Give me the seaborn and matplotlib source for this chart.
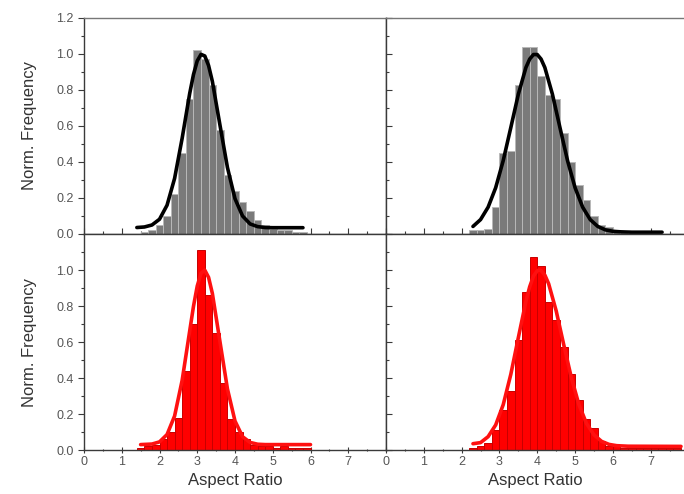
import numpy as np
import pandas as pd
import matplotlib
matplotlib.use("Agg")
import matplotlib.pyplot as plt
import seaborn as sns
from matplotlib.ticker import MultipleLocator

sns.set_theme(style="white")
plt.rcParams['font.family'] = ['Liberation Sans', 'DejaVu Sans']

# ---------------- data ----------------
# top-left histogram (grey)
tl_bin_centers = [1.6, 1.8, 2.0, 2.2, 2.4, 2.6, 2.8, 3.0, 3.2, 3.4, 3.6, 3.8,
                  4.0, 4.2, 4.4, 4.6, 4.8, 5.0, 5.2, 5.4, 5.6, 5.8]
tl_heights = [0.01, 0.02, 0.05, 0.10, 0.22, 0.45, 0.75, 1.02, 0.97, 0.83, 0.58, 0.33,
              0.24, 0.18, 0.13, 0.08, 0.05, 0.03, 0.02, 0.02, 0.01, 0.01]
tl_fit_x = [1.4, 1.6, 1.8, 2.0, 2.2, 2.4, 2.6, 2.8, 2.9, 3.0, 3.1, 3.2, 3.3, 3.4,
            3.6, 3.8, 4.0, 4.2, 4.4, 4.6, 4.8, 5.0, 5.8]
tl_fit_y = [0.036, 0.039, 0.050, 0.082, 0.160, 0.309, 0.532, 0.781, 0.886, 0.962,
            0.998, 0.989, 0.936, 0.848, 0.607, 0.369, 0.196, 0.100, 0.056, 0.041,
            0.036, 0.035, 0.035]

# top-right histogram (grey)
tr_bin_centers = [2.3, 2.5, 2.7, 2.9, 3.1, 3.3, 3.5, 3.7, 3.9, 4.1, 4.3, 4.5, 4.7,
                  4.9, 5.1, 5.3, 5.5, 5.7, 5.9, 6.1, 6.3, 6.5, 6.7, 6.9, 7.1]
tr_heights = [0.02, 0.02, 0.03, 0.15, 0.45, 0.46, 0.83, 1.04, 1.04, 0.88, 0.77, 0.75,
              0.56, 0.40, 0.27, 0.19, 0.10, 0.05, 0.04, 0.02, 0.01, 0.01, 0.01,
              0.005, 0.005]
tr_fit_x = [2.3, 2.5, 2.7, 2.9, 3.1, 3.3, 3.5, 3.7, 3.8, 3.9, 4.0, 4.1, 4.2, 4.4,
            4.6, 4.8, 5.0, 5.2, 5.4, 5.6, 5.8, 6.0, 6.2, 6.5, 7.3]
tr_fit_y = [0.042, 0.080, 0.149, 0.257, 0.408, 0.591, 0.777, 0.925, 0.972, 0.997,
            0.997, 0.972, 0.925, 0.777, 0.591, 0.408, 0.257, 0.149, 0.080, 0.042,
            0.023, 0.015, 0.012, 0.010, 0.010]

# bottom-left histogram (red)
bl_bin_centers = [1.5, 1.7, 1.9, 2.1, 2.3, 2.5, 2.7, 2.9, 3.1, 3.3, 3.5, 3.7, 3.9,
                  4.1, 4.3, 4.5, 4.7, 4.9, 5.1, 5.3, 5.5, 5.7, 5.9]
bl_heights = [0.01, 0.02, 0.03, 0.06, 0.10, 0.18, 0.44, 0.70, 1.11, 0.86, 0.65, 0.37,
              0.17, 0.10, 0.06, 0.03, 0.02, 0.02, 0.01, 0.02, 0.01, 0.01, 0.01]
bl_fit_x = [1.5, 1.8, 2.0, 2.2, 2.4, 2.6, 2.8, 2.9, 3.0, 3.1, 3.2, 3.3, 3.4, 3.6,
            3.8, 4.0, 4.2, 4.4, 4.6, 4.8, 6.0]
bl_fit_y = [0.030, 0.033, 0.045, 0.086, 0.189, 0.387, 0.661, 0.798, 0.911, 0.982,
            0.999, 0.959, 0.870, 0.604, 0.339, 0.161, 0.074, 0.042, 0.032, 0.030,
            0.030]

# bottom-right histogram (red)
br_bin_centers = [2.3, 2.5, 2.7, 2.9, 3.1, 3.3, 3.5, 3.7, 3.9, 4.1, 4.3, 4.5, 4.7,
                  4.9, 5.1, 5.3, 5.5, 5.7, 5.9, 6.1, 6.3, 6.5, 6.7, 6.9, 7.1, 7.3,
                  7.5, 7.7]
br_heights = [0.01, 0.02, 0.04, 0.11, 0.22, 0.33, 0.61, 0.88, 1.07, 1.02, 0.82, 0.72,
              0.57, 0.42, 0.28, 0.17, 0.12, 0.05, 0.02, 0.03, 0.01, 0.01, 0.01,
              0.01, 0.01, 0.01, 0.01, 0.01]
br_fit_x = [2.3, 2.5, 2.7, 2.9, 3.1, 3.3, 3.5, 3.7, 3.8, 3.9, 4.0, 4.05, 4.1, 4.2,
            4.3, 4.5, 4.7, 4.9, 5.1, 5.3, 5.5, 5.7, 5.9, 6.1, 6.4, 7.8]
br_fit_y = [0.035, 0.041, 0.074, 0.139, 0.252, 0.420, 0.625, 0.826, 0.907, 0.966,
            0.996, 1.0, 0.997, 0.972, 0.924, 0.773, 0.585, 0.403, 0.253, 0.148,
            0.084, 0.048, 0.031, 0.024, 0.021, 0.020]

x_tick_labels = ["0", "1", "2", "3", "4", "5", "6", "7"]
y_tick_labels_top = ["0.0", "0.2", "0.4", "0.6", "0.8", "1.0", "1.2"]
y_tick_labels_bottom = ["0.0", "0.2", "0.4", "0.6", "0.8", "1.0"]
x_label = "Aspect Ratio"
y_label = "Norm. Frequency"

# ---------------- figure ----------------
W, H = 684, 494
fig = plt.figure(figsize=(W / 100, H / 100), dpi=100)
fig.patch.set_facecolor("white")

def frac(x0, y0, x1, y1):
    return [x0 / W, 1 - y1 / H, (x1 - x0) / W, (y1 - y0) / H]

ax_tl = fig.add_axes(frac(84, 18, 386, 234))
ax_tr = fig.add_axes(frac(386, 18, 684, 234))
ax_bl = fig.add_axes(frac(84, 234, 386, 450))
ax_br = fig.add_axes(frac(386, 234, 684, 450))

panels = [
    (ax_tl, tl_bin_centers, tl_heights, tl_fit_x, tl_fit_y, "#7a7a7a", "#b8b8b8", "black"),
    (ax_tr, tr_bin_centers, tr_heights, tr_fit_x, tr_fit_y, "#7a7a7a", "#b8b8b8", "black"),
    (ax_bl, bl_bin_centers, bl_heights, bl_fit_x, bl_fit_y, "#ff0000", "#c80000", "#ff1010"),
    (ax_br, br_bin_centers, br_heights, br_fit_x, br_fit_y, "#ff0000", "#c80000", "#ff1010"),
]

for ax, cx, hy, fx, fy, fc, ec, lc in panels:
    lo = min(cx) - 0.1
    hi = max(cx) + 0.1
    sns.histplot(x=cx, weights=hy, binwidth=0.2, binrange=(lo, hi), ax=ax,
                 color=fc, edgecolor=ec, linewidth=0.7, alpha=1.0, stat="count")
    sns.lineplot(x=fx, y=fy, ax=ax, color=lc, linewidth=2.6, sort=True)
    for ln in ax.get_lines():
        ln.set_solid_joinstyle("round")
        ln.set_solid_capstyle("round")
    ax.set_ylim(0, 1.2)
    ax.set_facecolor("white")
    ax.set_xlabel("")
    ax.set_ylabel("")
    ax.xaxis.set_major_locator(MultipleLocator(1))
    ax.xaxis.set_minor_locator(MultipleLocator(0.5))
    ax.yaxis.set_major_locator(MultipleLocator(0.2))
    ax.yaxis.set_minor_locator(MultipleLocator(0.1))
    for s in ax.spines.values():
        s.set_visible(True)
        s.set_color("#3a3a3a")
        s.set_linewidth(1.0)
    ax.tick_params(which="both", colors="#3a3a3a", labelcolor="#555555",
                   labelsize=9, width=0.8)
    ax.tick_params(which="major", length=4)
    ax.tick_params(which="minor", length=2)

ax_tl.set_xlim(0, 8)
ax_bl.set_xlim(0, 8)
ax_tr.set_xlim(0, 7.88)
ax_br.set_xlim(0, 7.88)

# right panels are cut at the figure edge
ax_tr.spines["right"].set_visible(False)
ax_br.spines["right"].set_visible(False)
ax_tl.spines["top"].set_color("#777777")
ax_tr.spines["top"].set_color("#777777")

# tick placement
for ax in (ax_tl, ax_bl):
    ax.tick_params(axis="y", which="both", left=True, right=True, direction="out",
                   labelleft=True, labelright=False)
for ax in (ax_tr, ax_br):
    ax.tick_params(axis="y", which="both", left=True, right=False, direction="in",
                   labelleft=False)
for ax in (ax_tl, ax_tr):
    ax.tick_params(axis="x", which="both", bottom=True, top=False, direction="in",
                   labelbottom=False)
for ax in (ax_bl, ax_br):
    ax.tick_params(axis="x", which="both", bottom=True, top=False, direction="inout",
                   labelbottom=True, pad=2)

ax_tl.set_yticks([0.0, 0.2, 0.4, 0.6, 0.8, 1.0, 1.2])
ax_tl.set_yticklabels(y_tick_labels_top)
ax_bl.set_yticks([0.0, 0.2, 0.4, 0.6, 0.8, 1.0])
ax_bl.set_yticklabels(y_tick_labels_bottom)
ax_bl.set_xticks([0, 1, 2, 3, 4, 5, 6, 7])
ax_bl.set_xticklabels(x_tick_labels)
ax_br.set_xticks([0, 1, 2, 3, 4, 5, 6, 7])
ax_br.set_xticklabels(x_tick_labels)

for ax in (ax_tl, ax_bl):
    ax.set_ylabel(y_label, fontsize=12, color="#333333")
    ax.yaxis.set_label_coords(-0.155, 0.5)
for ax in (ax_bl, ax_br):
    ax.set_xlabel(x_label, fontsize=12, color="#333333")
    ax.xaxis.set_label_coords(0.5, -0.105)

fig.savefig("out.png", dpi=100, facecolor="white")
